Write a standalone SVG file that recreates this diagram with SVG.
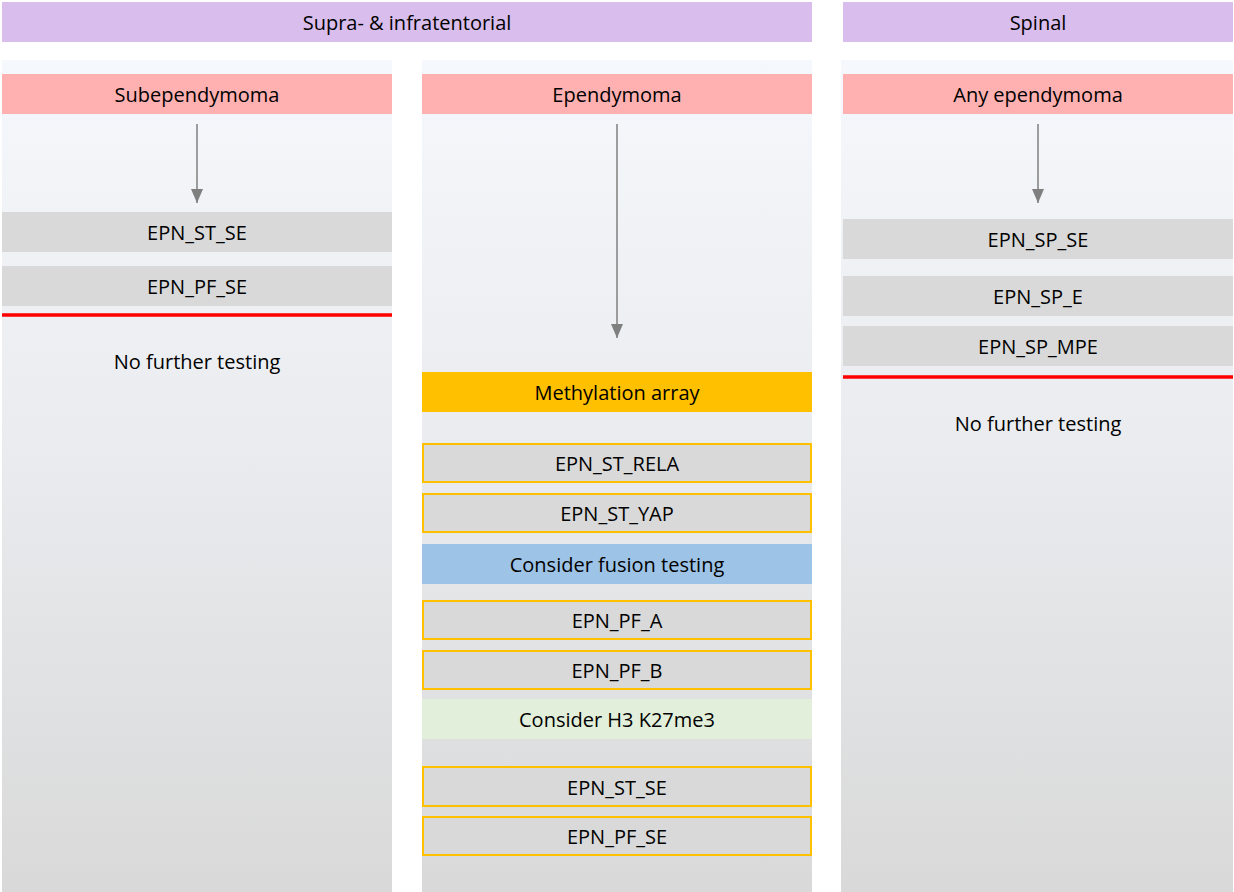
<svg xmlns="http://www.w3.org/2000/svg" width="1234" height="892" viewBox="0 0 1234 892">
<defs>
<linearGradient id="colbg" x1="0" y1="0" x2="0" y2="1">
<stop offset="0" stop-color="#f5f8fc"/>
<stop offset="0.45" stop-color="#eaecef"/>
<stop offset="1" stop-color="#d9d9d9"/>
</linearGradient>
<marker id="arr" viewBox="0 0 14 12" refX="14" refY="6" markerWidth="14" markerHeight="12" markerUnits="userSpaceOnUse" orient="auto">
<path d="M0,0 L14,6 L0,12 Z" fill="#7f7f7f"/>
</marker>
</defs>
<style>
text{font-family:"Open Sans","Liberation Sans",sans-serif;font-size:20px;fill:#000;text-anchor:middle;dominant-baseline:central}
.hdr{fill:#d9bdec}
.pink{fill:#ffb1b1}
.grey{fill:#d9d9d9}
.obox{fill:#d9d9d9;stroke:#ffc000;stroke-width:2}
.red{stroke:#ff0000;stroke-width:3.5}
.conn{stroke:#7f7f7f;stroke-width:1.5;fill:none}
</style>
<rect width="1234" height="892" fill="#ffffff"/>
<g id="headers">
<g id="h-supra"><rect class="hdr" x="2" y="2" width="810" height="40"/><text x="407" y="22">Supra- &amp; infratentorial</text></g>
<g id="h-spinal"><rect class="hdr" x="843" y="2" width="390" height="40"/><text x="1038" y="22">Spinal</text></g>
</g>
<g id="columns">
<rect x="2" y="60" width="390" height="832" fill="url(#colbg)"/>
<rect x="422" y="60" width="390" height="832" fill="url(#colbg)"/>
<rect x="841" y="60" width="392" height="832" fill="url(#colbg)"/>
</g>
<g id="col1">
<g id="subependymoma"><rect class="pink" x="2" y="74" width="390" height="40"/><text x="197" y="94">Subependymoma</text></g>
<g id="c1-st-se"><rect class="grey" x="2" y="212" width="390" height="40"/><text x="197" y="232">EPN_ST_SE</text></g>
<g id="c1-pf-se"><rect class="grey" x="2" y="266" width="390" height="40"/><text x="197" y="286">EPN_PF_SE</text></g>
<line class="red" x1="2" y1="315" x2="392" y2="315"/>
<g id="c1-nft"><text x="197" y="361">No further testing</text></g>
</g>
<g id="col2">
<g id="ependymoma"><rect class="pink" x="422" y="74" width="390" height="40"/><text x="617" y="94">Ependymoma</text></g>
<g id="methylation"><rect x="422" y="372" width="390" height="40" fill="#ffc000"/><text x="617" y="392">Methylation array</text></g>
<g id="st-rela"><rect class="obox" x="423" y="444" width="388" height="38"/><text x="617" y="463">EPN_ST_RELA</text></g>
<g id="st-yap"><rect class="obox" x="423" y="494" width="388" height="38"/><text x="617" y="513">EPN_ST_YAP</text></g>
<g id="fusion"><rect x="422" y="544" width="390" height="40" fill="#9dc3e6"/><text x="617" y="564">Consider fusion testing</text></g>
<g id="pf-a"><rect class="obox" x="423" y="601" width="388" height="38"/><text x="617" y="620">EPN_PF_A</text></g>
<g id="pf-b"><rect class="obox" x="423" y="651" width="388" height="38"/><text x="617" y="670">EPN_PF_B</text></g>
<g id="h3"><rect x="422" y="699" width="390" height="40" fill="#e2efda"/><text x="617" y="719">Consider H3 K27me3</text></g>
<g id="c2-st-se"><rect class="obox" x="423" y="767" width="388" height="39"/><text x="617" y="787">EPN_ST_SE</text></g>
<g id="c2-pf-se"><rect class="obox" x="423" y="817" width="388" height="38"/><text x="617" y="836">EPN_PF_SE</text></g>
</g>
<g id="col3">
<g id="any-epn"><rect class="pink" x="843" y="74" width="390" height="40"/><text x="1038" y="94">Any ependymoma</text></g>
<g id="sp-se"><rect class="grey" x="843" y="219" width="390" height="40"/><text x="1038" y="239">EPN_SP_SE</text></g>
<g id="sp-e"><rect class="grey" x="843" y="276" width="390" height="40"/><text x="1038" y="296">EPN_SP_E</text></g>
<g id="sp-mpe"><rect class="grey" x="843" y="326" width="390" height="40"/><text x="1038" y="346">EPN_SP_MPE</text></g>
<line class="red" x1="843" y1="377" x2="1233" y2="377"/>
<g id="c3-nft"><text x="1038" y="423">No further testing</text></g>
</g>
<g id="connectors">
<line class="conn" x1="197" y1="124" x2="197" y2="203" marker-end="url(#arr)"/>
<line class="conn" x1="617" y1="124" x2="617" y2="338" marker-end="url(#arr)"/>
<line class="conn" x1="1038" y1="124" x2="1038" y2="203" marker-end="url(#arr)"/>
</g>
</svg>
